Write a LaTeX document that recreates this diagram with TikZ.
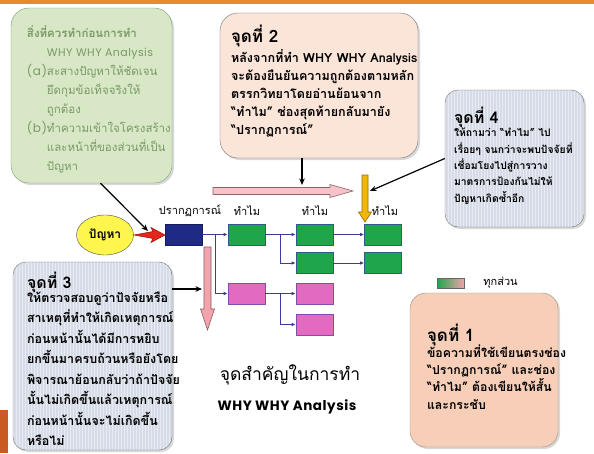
\documentclass[tikz,border=0pt]{standalone}
\usepackage{fontspec}
\setmainfont[Script=Thai]{Loma}
\newfontfamily\gothic[LetterSpace=4]{Poppins}
\usepackage{xcolor}
\definecolor{orangeBar}{HTML}{E98A2F}
\definecolor{orangeSide}{HTML}{C95A22}
\definecolor{prepFill}{HTML}{D8E8C6}
\definecolor{prepLine}{HTML}{7F9A70}
\definecolor{prepText}{HTML}{7A9868}
\definecolor{peachLight}{HTML}{FBE4D8}
\definecolor{peachDeep}{HTML}{F7CFB8}
\definecolor{slateFill}{HTML}{D6DCE7}
\definecolor{navyBox}{HTML}{1E2A86}
\definecolor{whyGreen}{HTML}{1FA54A}
\definecolor{whyPink}{HTML}{E26BC0}
\definecolor{linkBlue}{HTML}{3A3AA0}
\definecolor{flowPink}{HTML}{F6C3CB}
\definecolor{dropPink}{HTML}{F2A3AC}
\definecolor{goldArrow}{HTML}{F2B705}
\definecolor{alarmRed}{HTML}{E3261F}
\usetikzlibrary{arrows.meta,positioning,shapes.geometric,calc,shadows}
\newcommand{\noteline}[1]{\smash{#1}\par}
\newcommand{\notebody}[5]{\parbox[c][#1][t]{#2}{\leftskip=#3\relax\vspace*{#4}#5}}

\begin{document}
\begin{tikzpicture}[x=1pt,y=-1pt,
  note/.style={draw=black!55,rounded corners=16pt,inner sep=0pt,
    drop shadow={opacity=.3,shadow xshift=2pt,shadow yshift=-2pt}},
  striped/.style={note,fill=slateFill,rounded corners=13pt,
    path picture={\foreach \s in {0,3,...,200}
      \draw[white,opacity=.45,line width=.9pt]
        ([xshift=\s pt]path picture bounding box.south west)--
        ([xshift=\s pt]path picture bounding box.north west);}},
  why/.style={minimum width=37pt,minimum height=21pt,inner sep=0pt,line width=.6pt},
  good/.style={why,fill=whyGreen,draw=linkBlue!70!whyGreen},
  bad/.style={why,fill=whyPink,draw=linkBlue!60!whyPink},
  tag/.style={font=\fontsize{11}{12}\selectfont,inner sep=1pt},
  link/.style={-{Latex[length=4pt,width=3.5pt]},draw=linkBlue,line width=.8pt},
  arr/.style={-{Stealth[length=6.5pt,width=5.5pt]},line width=1.2pt,draw=black},
  block/.style={line width=.6pt,line join=miter}]
  \useasboundingbox (0,0) rectangle (594,453);
  \fill[white] (0,0) rectangle (594,453);
  \fill[orangeBar] (0,0) rectangle (594,3.5);
  \fill[orangeSide] (0,410) rectangle (8,453);

  \node[note,fill=prepFill,draw=prepLine,rounded corners=18pt,text=prepText,
    font=\fontsize{11.5}{19}\selectfont] (prep) at (91.5,95.5)
    {\notebody{175pt}{161pt}{16pt}{29.5pt}{%
     \noteline{\bfseries สิ่งที่ควรทำก่อนการทำ}
     \noteline{\hspace*{20pt}\gothic\fontsize{11}{12}\selectfont WHY WHY Analysis}
     \noteline{\makebox[20pt][l]{\gothic\fontsize{12}{12}\selectfont(a)}สะสางปัญหาให้ชัดเจน}
     \noteline{\hspace*{20pt}ยึดกุมข้อเท็จจริงให้}
     \noteline{\hspace*{20pt}ถูกต้อง}
     \noteline{\makebox[20pt][l]{\gothic\fontsize{12}{12}\selectfont(b)}ทำความเข้าใจโครงสร้าง}
     \noteline{\hspace*{20pt}และหน้าที่ของส่วนที่เป็น}
     \noteline{\hspace*{20pt}ปัญหา}}};
  \node[note,fill=peachLight,rounded corners=18pt,font=\bfseries\fontsize{12.6}{18}\selectfont]
    (pt2) at (319,85.5)
    {\notebody{145pt}{198pt}{11pt}{29pt}{%
     \noteline{\fontsize{17}{18}\selectfont จุดที่ 2}\vspace{2pt}
     \noteline{หลังจากที่ทำ WHY WHY Analysis}
     \noteline{จะต้องยืนยันความถูกต้องตามหลัก}
     \noteline{ตรรกวิทยาโดยอ่านย้อนจาก}
     \noteline{“ทำไม” ช่องสุดท้ายกลับมายัง}
     \noteline{“ปรากฏการณ์”}}};
  \node[striped,font=\bfseries\fontsize{10.4}{16.3}\selectfont] (pt4) at (514.5,158.5)
    {\notebody{137pt}{139pt}{9pt}{33pt}{%
     \noteline{\fontsize{16}{18}\selectfont จุดที่ 4}\vspace{-2.5pt}
     \noteline{ให้ถามว่า “ทำไม” ไป}
     \noteline{เรื่อยๆ จนกว่าจะพบปัจจัยที่}
     \noteline{เชื่อมโยงไปสู่การวาง}
     \noteline{มาตรการป้องกันไม่ให้}
     \noteline{ปัญหาเกิดซ้ำอีก}}};
  \node[striped,font=\bfseries\fontsize{12.5}{20.5}\selectfont] (pt3) at (92.5,356)
    {\notebody{188pt}{159pt}{14pt}{26pt}{%
     \noteline{\fontsize{16}{18}\selectfont จุดที่ 3}\vspace{-6.5pt}
     \noteline{ให้ตรวจสอบดูว่าปัจจัยหรือ}
     \noteline{สาเหตุที่ทำให้เกิดเหตุการณ์}
     \noteline{ก่อนหน้านั้นได้มีการหยิบ}
     \noteline{ยกขึ้นมาครบถ้วนหรือยังโดย}
     \noteline{พิจารณาย้อนกลับว่าถ้าปัจจัย}
     \noteline{นั้นไม่เกิดขึ้นแล้วเหตุการณ์}
     \noteline{ก่อนหน้านั้นจะไม่เกิดขึ้น}
     \noteline{หรือไม่}}};
  \node[note,fill=peachDeep,draw=orangeSide!45!black!55,
    font=\bfseries\fontsize{12.3}{17.3}\selectfont] (pt1) at (484,370)
    {\notebody{154pt}{148pt}{17pt}{48pt}{%
     \noteline{\fontsize{17}{18}\selectfont จุดที่ 1}\vspace{-1pt}
     \noteline{ข้อความที่ใช้เขียนตรงช่อง}
     \noteline{“ปรากฏการณ์” และช่อง}
     \noteline{“ทำไม” ต้องเขียนให้สั้น}
     \noteline{และกระชับ}}};

  \node[why,fill=navyBox,draw=navyBox!70!black] (phen) at (183.5,234.5) {};
  \node[good] (g11) at (246.5,234.5) {};
  \node[good] (g21) at (314.5,234.5) {};
  \node[good] (g22) at (314.5,263) {};
  \node[good] (g31) at (383,234.5) {};
  \node[good] (g32) at (383,263) {};
  \node[bad] (p11) at (246.5,293.5) {};
  \node[bad] (p21) at (314.5,293.5) {};
  \node[bad] (p22) at (314.5,324.5) {};
  \node[tag] (phenLbl) at (190,211) {ปรากฏการณ์};
  \node[tag] (why1Lbl) at (247,211) {ทำไม};
  \node[tag] (why2Lbl) at (315,211) {ทำไม};
  \node[tag] (why3Lbl) at (385,211) {ทำไม};
  \node[ellipse,draw=black!70,fill=yellow!70,minimum width=57pt,minimum height=40pt,
    inner sep=0pt,font=\bfseries\fontsize{12}{13}\selectfont] (issue) at (105,235) {ปัญหา};

  \draw[link] (phen) -- (g11);
  \draw[link] ($(phen.east)!.5!(g11.west)$) |- (p11);
  \draw[link] (g11) -- (g21);
  \draw[link] ($(g11.east)!.5!(g21.west)$) |- (g22);
  \draw[link] (g21) -- (g31);
  \draw[link] (g22) -- (g32);
  \draw[link] (p11) -- (p21);
  \draw[link] ($(p11.east)!.5!(p21.west)$) |- (p22);

  \filldraw[block,fill=flowPink,draw=dropPink!60!black] (213,187.5) -- (330,187.5) -- (330,184.5)
    -- (353,191) -- (330,197.5) -- (330,194.5) -- (213,194.5) -- cycle;
  \filldraw[block,fill=dropPink,draw=dropPink!55!black] (204,247) -- (211,247) -- (211,309)
    -- (214.5,309) -- (207.5,330) -- (200.5,309) -- (204,309) -- cycle;
  \filldraw[block,fill=goldArrow,draw=goldArrow!60!black] (362,175) -- (368,175) -- (368,212)
    -- (371.5,212) -- (365,222) -- (358.5,212) -- (362,212) -- cycle;
  \filldraw[block,fill=alarmRed,draw=alarmRed!70!black] (134,235) -- (153,231.5) -- (151,227.5)
    -- (165,235) -- (151,242.5) -- (153,238.5) -- cycle;

  \coordinate (redIn) at (148,231);
  \coordinate (flowIn) at (302,185);
  \coordinate (goldIn) at (370,191);
  \coordinate (dropIn) at (202,289);
  \draw[arr] ([xshift=9pt]prep.south) -- (redIn);
  \draw[arr] (pt2.south -| flowIn) -- (flowIn);
  \draw[arr] (pt4.west) -- (goldIn);
  \draw[arr] (pt3.east |- dropIn) -- (dropIn);

  \node[draw=black!60,minimum width=27pt,minimum height=10pt,inner sep=0pt,
    left color=whyGreen,right color=dropPink] (allKey) at (450.5,283) {};
  \node[tag,right=18pt of allKey] (allLbl) {ทุกส่วน};

  \node[font=\fontsize{17.5}{20}\selectfont] (title) at (290,375) {จุดสำคัญในการทำ};
  \node[font=\gothic\bfseries\fontsize{13.5}{15}\selectfont] (titleEn) at (287,407) {WHY WHY Analysis};
\end{tikzpicture}
\end{document}
